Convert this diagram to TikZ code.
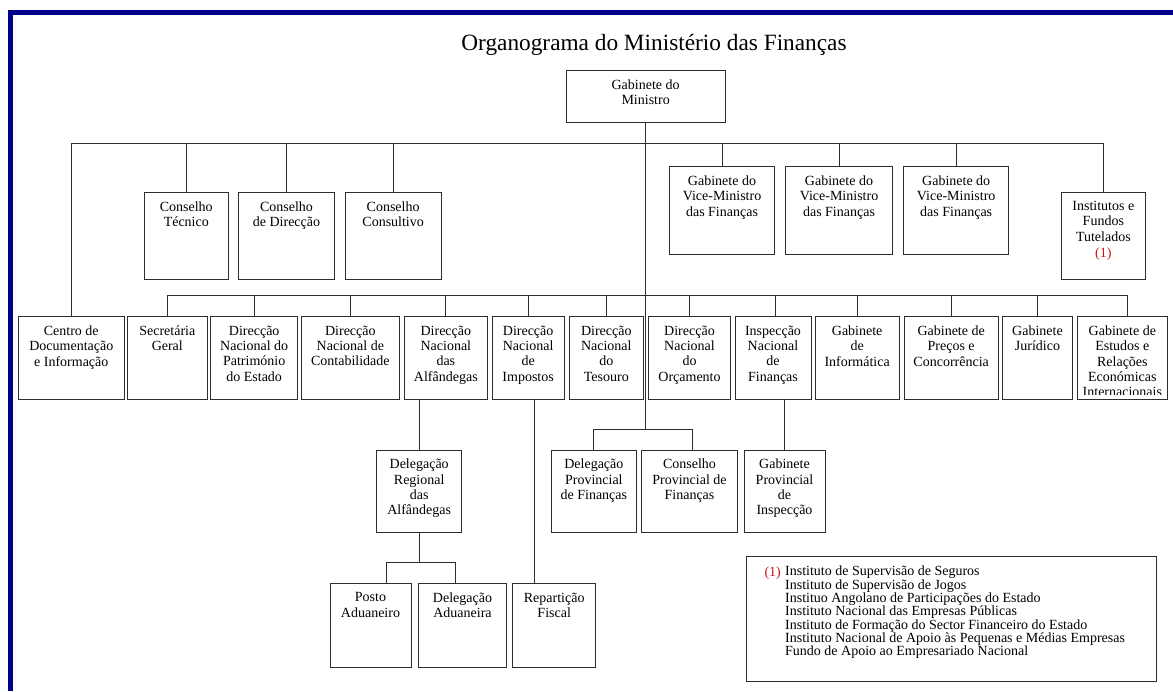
\documentclass[tikz,border=0pt]{standalone}
\usepackage{fontspec}
\setmainfont{Liberation Serif}
\usetikzlibrary{fit}
\definecolor{navyb}{RGB}{0,0,139}
\definecolor{linec}{RGB}{45,45,45}
\definecolor{redn}{RGB}{204,20,20}
\newcommand{\bx}[6]{%
  \node[box, fit={(#2,#3) (#4,#5)}] (#1) {};
  \node[txt, anchor=north] (#1t) at ([yshift=-9.3pt]#1.north) {#6};}
\begin{document}
\begin{tikzpicture}[x=1pt,y=-1pt,
  box/.style={draw=linec, line width=1pt, inner sep=0pt},
  txt/.style={font=\fontsize{14pt}{15.3pt}\selectfont, align=center, inner sep=0pt, execute at begin node={\rule{0pt}{11pt}}},
  conn/.style={draw=linec, line width=1pt}]
\useasboundingbox (0,0) rectangle (1173,691);
\fill[navyb] (8,10) rectangle (1173,15);
\fill[navyb] (8,10) rectangle (13,691);

\node[anchor=base, inner sep=0pt, font=\fontsize{23.3pt}{26pt}\selectfont] (title) at (654,50) {Organograma do Ministério das Finanças};

% row 0
\bx{min}{566.3}{70.3}{725}{122.3}{Gabinete do\\Ministro}
% row 1
\bx{ct}{144.3}{192.3}{228.3}{279.3}{Conselho\\Técnico}
\bx{cd}{238.7}{192.3}{334.3}{279.3}{Conselho\\de Direcção}
\bx{cc}{345.3}{192.3}{441}{279.3}{Conselho\\Consultivo}
\bx{vmA}{669.3}{166.7}{774.7}{254}{Gabinete do\\Vice-Ministro\\das Finanças}
\bx{vmB}{785.7}{166.7}{892.3}{254}{Gabinete do\\Vice-Ministro\\das Finanças}
\bx{vmC}{903.7}{166.7}{1008.7}{254}{Gabinete do\\Vice-Ministro\\das Finanças}
\bx{inst}{1061}{192.3}{1145.7}{279.3}{Institutos e\\Fundos\\Tutelados\\[1.5pt]\textcolor{redn}{(1)}}
% row 2
\bx{cdi}{18.3}{316.7}{124.3}{399.3}{Centro de\\Documentação\\e Informação}
\bx{sg}{127.3}{316.7}{207.3}{399.3}{Secretária\\Geral}
\bx{dnpe}{210.7}{316.7}{297.7}{399.3}{Direcção\\Nacional do\\Património\\do Estado}
\bx{dnc}{301.7}{316.7}{399}{399.3}{Direcção\\Nacional de\\Contabilidade}
\bx{dna}{404}{316.7}{487.7}{399.3}{Direcção\\Nacional\\das\\Alfândegas}
\bx{dni}{492.3}{316.7}{564}{399.3}{Direcção\\Nacional\\de\\Impostos}
\bx{dnt}{569.3}{316.7}{643.3}{399.3}{Direcção\\Nacional\\do\\Tesouro}
\bx{dno}{648.3}{316.7}{730.7}{399.3}{Direcção\\Nacional\\do\\Orçamento}
\bx{inf}{735}{316.7}{811}{399.3}{Inspecção\\Nacional\\de\\Finanças}
\bx{gi}{815}{316.7}{899.3}{399.3}{Gabinete\\de\\Informática}
\bx{gpc}{904.3}{316.7}{998}{399.3}{Gabinete de\\Preços e\\Concorrência}
\bx{gj}{1002.3}{316.7}{1072.7}{399.3}{Gabinete\\Jurídico}
\node[box, fit={(1077,316.7) (1167.7,399.3)}] (ge) {};
\begin{scope}
\clip (1077,316.7) rectangle (1167.7,394);
\node[txt, anchor=north] (get) at ([yshift=-9.3pt]ge.north) {Gabinete de\\Estudos e\\Relações\\Económicas\\Internacionais};
\end{scope}
% row 3
\bx{dra}{376.7}{450}{461.7}{532.3}{Delegação\\Regional\\das\\Alfândegas}
\bx{dpf}{551}{450}{636.7}{532.3}{Delegação\\Provincial\\de Finanças}
\bx{cpf}{641.7}{450}{737.3}{532.3}{Conselho\\Provincial de\\Finanças}
\bx{gpi}{744}{450}{825}{532.3}{Gabinete\\Provincial\\de\\Inspecção}
% row 4
\bx{pa}{330}{583.7}{411}{667}{Posto\\Aduaneiro}
\bx{da}{418.7}{583.7}{506.3}{667}{Delegação\\Aduaneira}
\bx{rf}{512.7}{583.7}{595.7}{667}{Repartição\\Fiscal}

% legend
\node[box, fit={(746.7,556.7) (1156.7,681)}] (leg) {};
\node[anchor=base west, inner sep=0pt, font=\fontsize{14pt}{13.33pt}\selectfont, text=redn] (legn) at (764.3,576) {(1)};
\node[anchor=north west, inner sep=0pt, align=left, font=\fontsize{14pt}{13.33pt}\selectfont, execute at begin node={\rule{0pt}{11pt}}] (legt) at (785,566) {Instituto de Supervisão de Seguros\\Instituto de Supervisão de Jogos\\Instituo Angolano de Participações do Estado\\Instituto Nacional das Empresas Públicas\\Instituto de Formação do Sector Financeiro do Estado\\Instituto Nacional de Apoio às Pequenas e Médias Empresas\\Fundo de Apoio ao Empresariado Nacional};

% connectors
\coordinate (bus1) at (646,143.3);
\coordinate (bus2) at (646,295.7);
\coordinate (bus3) at (646,429.3);
\coordinate (bus4) at (419,562.7);
\draw[conn] (min.south) -- (min.south |- bus3);
\draw[conn] (cdi.north) -- (cdi.north |- bus1) -- (inst.north |- bus1) -- (inst.north);
\foreach \n in {ct,cd,cc,vmA,vmB,vmC} \draw[conn] (\n.north) -- (\n.north |- bus1);
\draw[conn] (sg.north) -- (sg.north |- bus2) -- ([xshift=5.4pt]ge.north |- bus2) -- ([xshift=5.4pt]ge.north);
\foreach \n in {dnpe,dnc,dna,dni,dnt,dno,gi,gpc,gj} \draw[conn] (\n.north) -- (\n.north |- bus2);
\draw[conn] ([xshift=2pt]inf.north) -- ([xshift=2pt]inf.north |- bus2);
\draw[conn] (dpf.north) -- (dpf.north |- bus3) -- ([xshift=3.2pt]cpf.north |- bus3) -- ([xshift=3.2pt]cpf.north);
\draw[conn] (dra.north) -- (dra.north |- dna.south);
\draw[conn] (dra.south) -- (dra.south |- bus4);
\draw[conn] ([xshift=16.2pt]pa.north) -- ([xshift=16.2pt]pa.north |- bus4) -- ([xshift=-7.2pt]da.north |- bus4) -- ([xshift=-7.2pt]da.north);
\draw[conn] ([xshift=6.1pt]dni.south) -- ([xshift=6.1pt]dni.south |- rf.north);
\draw[conn] (gpi.north) -- (gpi.north |- inf.south);
\end{tikzpicture}
\end{document}
